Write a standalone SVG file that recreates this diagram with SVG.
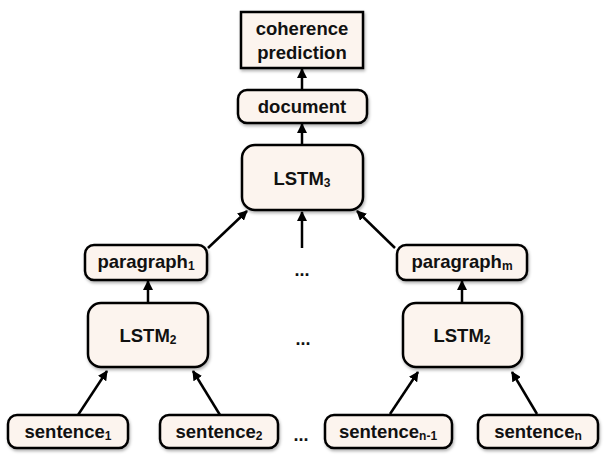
<svg xmlns="http://www.w3.org/2000/svg" width="607" height="471" viewBox="0 0 607 471">
<defs>
<filter id="sh" x="-10%" y="-10%" width="130%" height="140%">
<feDropShadow dx="1" dy="2" stdDeviation="1.5" flood-color="#000" flood-opacity="0.3"/>
</filter>
<marker id="ah" viewBox="0 0 10 10" refX="9" refY="5" markerWidth="10" markerHeight="10" markerUnits="userSpaceOnUse" orient="auto">
<path d="M0,0 L10,5 L0,10 Z" fill="#000"/>
</marker>
</defs>
<style>
.box{fill:#FCF4EE;stroke:#000;stroke-width:2.5;filter:url(#sh)}
.t{font-family:"Liberation Sans",Arial,sans-serif;font-weight:bold;font-size:18.5px;fill:#111;text-anchor:middle}
.s{font-size:12px}
.c{stroke:#000;stroke-width:2.5;fill:none;marker-end:url(#ah)}
.d{font-family:"Liberation Sans",Arial,sans-serif;font-weight:bold;font-size:18px;fill:#111;text-anchor:middle}
</style>
<g id="connectors">
<line class="c" x1="302" y1="90" x2="302" y2="69"/>
<line class="c" x1="302" y1="145" x2="302" y2="124"/>
<line class="c" x1="208" y1="248" x2="247" y2="211"/>
<line class="c" x1="302" y1="248" x2="302" y2="212"/>
<line class="c" x1="395" y1="248" x2="357" y2="211"/>
<line class="c" x1="148" y1="303" x2="148" y2="281"/>
<line class="c" x1="462" y1="303" x2="462" y2="281"/>
<line class="c" x1="78" y1="415" x2="107" y2="371"/>
<line class="c" x1="220" y1="415" x2="193" y2="371"/>
<line class="c" x1="390" y1="414" x2="418" y2="372"/>
<line class="c" x1="537" y1="414" x2="512" y2="372"/>
</g>
<g id="coherence">
<rect class="box" x="241" y="12" width="122" height="56"/>
<text class="t" x="302" y="35">coherence</text>
<text class="t" x="302" y="59">prediction</text>
</g>
<g id="document">
<rect class="box" x="238" y="90" width="129" height="33" rx="9"/>
<text class="t" x="302" y="113">document</text>
</g>
<g id="lstm3">
<rect class="box" x="242" y="145" width="121" height="65" rx="13"/>
<text class="t" x="302" y="185">LSTM<tspan class="s" dy="2">3</tspan></text>
</g>
<g id="paragraph1">
<rect class="box" x="85" y="245" width="122" height="35" rx="9"/>
<text class="t" x="146" y="268">paragraph<tspan class="s" dy="2">1</tspan></text>
</g>
<g id="paragraphm">
<rect class="box" x="397" y="245" width="130" height="35" rx="9"/>
<text class="t" x="462" y="268">paragraph<tspan class="s" dy="2">m</tspan></text>
</g>
<g id="lstm2a">
<rect class="box" x="88" y="303" width="120" height="64" rx="13"/>
<text class="t" x="148" y="342">LSTM<tspan class="s" dy="2">2</tspan></text>
</g>
<g id="lstm2b">
<rect class="box" x="403" y="303" width="119" height="64" rx="13"/>
<text class="t" x="462" y="342">LSTM<tspan class="s" dy="2">2</tspan></text>
</g>
<g id="sentence1">
<rect class="box" x="8" y="415" width="120" height="33" rx="9"/>
<text class="t" x="68" y="438">sentence<tspan class="s" dy="2">1</tspan></text>
</g>
<g id="sentence2">
<rect class="box" x="160" y="415" width="118" height="33" rx="9"/>
<text class="t" x="219" y="438">sentence<tspan class="s" dy="2">2</tspan></text>
</g>
<g id="sentencen1">
<rect class="box" x="325" y="415" width="127" height="33" rx="9"/>
<text class="t" x="388" y="438">sentence<tspan class="s" dy="2">n-1</tspan></text>
</g>
<g id="sentencen">
<rect class="box" x="478" y="415" width="120" height="33" rx="9"/>
<text class="t" x="538" y="438">sentence<tspan class="s" dy="2">n</tspan></text>
</g>
<text class="d" x="302" y="276">...</text>
<text class="d" x="303" y="345">...</text>
<text class="d" x="301" y="441">...</text>
</svg>
